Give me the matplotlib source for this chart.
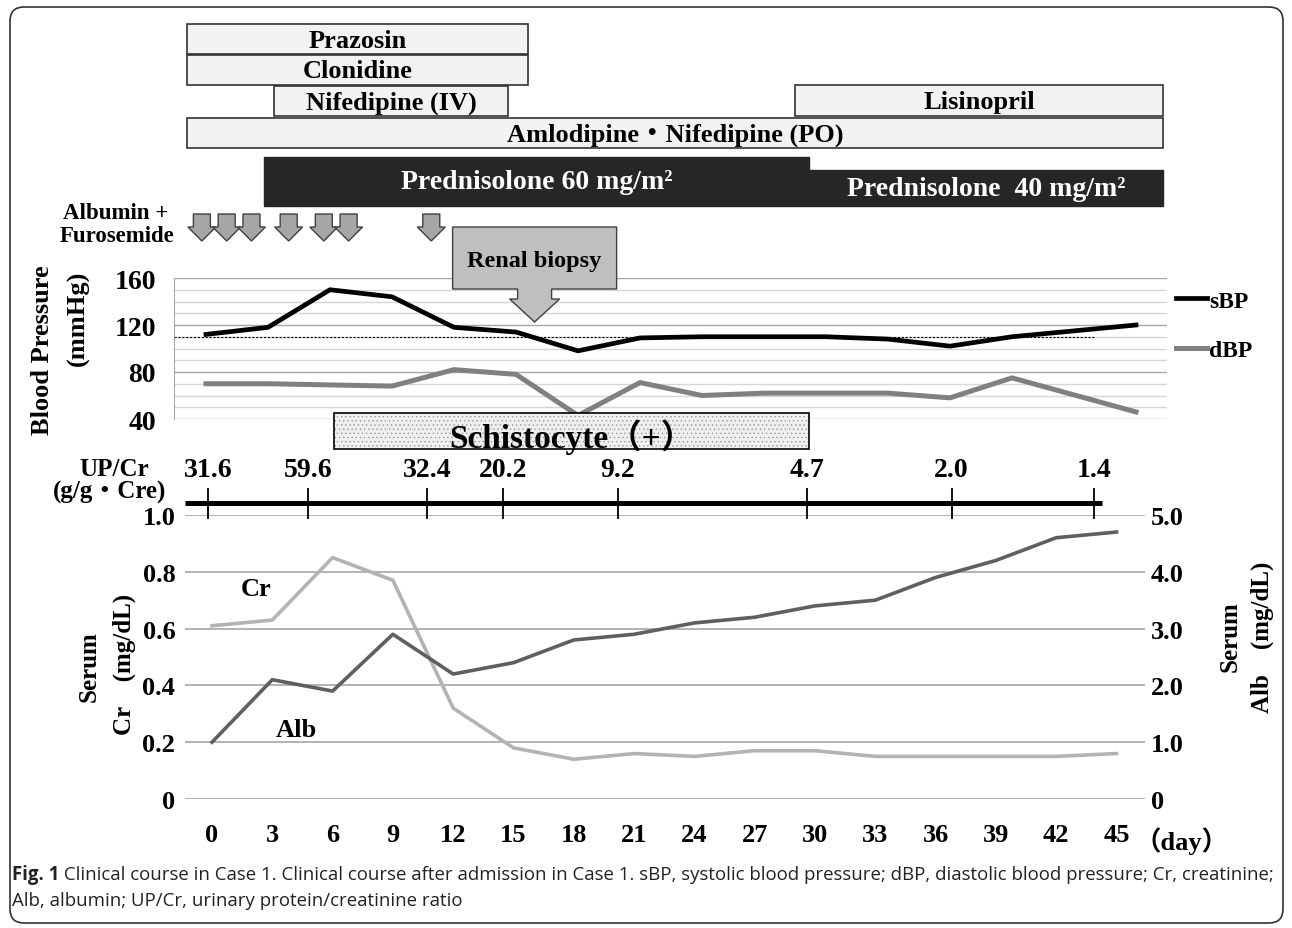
import matplotlib
matplotlib.use("Agg")
import matplotlib.pyplot as plt
from matplotlib import font_manager
from matplotlib.patches import Rectangle, Polygon, FancyBboxPatch

# blood pressure (upper panel)
bp_days = [0, 3, 6, 9, 12, 15, 18, 21, 24, 27, 30, 33, 36, 39, 45]
sbp = [112, 118, 150, 144, 118, 114, 98, 109, 110, 110, 110, 108, 102, 110, 120]
dbp = [70, 70, 69, 68, 82, 78, 43, 71, 60, 62, 62, 62, 58, 75, 46]
bp_ref = 110

# serum values (lower panel)
lab_days = [0, 3, 6, 9, 12, 15, 18, 21, 24, 27, 30, 33, 36, 39, 42, 45]
cr = [0.61, 0.63, 0.85, 0.77, 0.32, 0.18, 0.14, 0.16, 0.15, 0.17, 0.17, 0.15, 0.15, 0.15, 0.15, 0.16]
alb = [1.0, 2.1, 1.9, 2.9, 2.2, 2.4, 2.8, 2.9, 3.1, 3.2, 3.4, 3.5, 3.9, 4.2, 4.6, 4.7]

# urinary protein / creatinine
upcr_days = [-0.2, 4.8, 10.7, 14.5, 20.2, 29.6, 36.8, 43.9]
upcr = ["31.6", "59.6", "32.4", "20.2", "9.2", "4.7", "2.0", "1.4"]

# treatments (days)
drugs = ["Prazosin", "Clonidine", "Nifedipine (IV)", "Lisinopril", "Amlodipine・Nifedipine (PO)"]
drug_start = [-0.9, -0.9, 3.3, 28.5, -0.9]
drug_end = [15.6, 15.6, 14.6, 46.3, 46.3]
steroid = ["Prednisolone 60 mg/m²", "Prednisolone  40 mg/m²"]
steroid_start = [2.8, 29.2]
steroid_end = [29.2, 46.3]
albumin_days = [-0.2, 1.0, 2.2, 4.0, 5.7, 6.9, 10.9]
biopsy_day = 15.9
schisto_start, schisto_end = 6.2, 29.2

W, H = 1292, 929
plt.rcParams["font.family"] = ["Liberation Serif", "Noto Sans CJK JP"]
plt.rcParams["font.weight"] = "bold"
plt.rcParams["hatch.linewidth"] = 0.5
fig = plt.figure(figsize=(W / 100, H / 100), dpi=100)


def box(x0, y0, x1, y1):
    return fig.add_axes([x0 / W, 1 - y1 / H, (x1 - x0) / W, (y1 - y0) / H])


# ---- upper panel: blood pressure ----
day0_top, ppd_top = 206, 20.667
top_xlim = ((174 - day0_top) / ppd_top, (1167 - day0_top) / ppd_top)

ax_bp = box(174, 279, 1167, 420)
ax_bp.set_xlim(top_xlim)
ax_bp.set_ylim(40, 160)
ax_bp.set_yticks(range(40, 161, 40))
ax_bp.set_yticks(range(40, 161, 10), minor=True)
ax_bp.set_xticks([])
ax_bp.grid(which="major", axis="y", color="#a6a6a6", lw=1.0)
ax_bp.grid(which="minor", axis="y", color="#d6d6d6", lw=1.0)
ax_bp.tick_params(which="both", length=0, labelsize=20, pad=13)
for s in ["top", "right", "bottom"]:
    ax_bp.spines[s].set_visible(False)
ax_bp.spines["left"].set_color("#a6a6a6")
ax_bp.hlines(bp_ref, top_xlim[0], (1094 - day0_top) / ppd_top, color="black",
             lw=0.8, linestyles=(0, (2, 1.5)))
l_s, = ax_bp.plot(bp_days, sbp, color="black", lw=3.4)
l_d, = ax_bp.plot(bp_days, dbp, color="#808080", lw=3.6)
ax_bp.legend([l_s, l_d], ["sBP", "dBP"], loc="upper left",
             bbox_to_anchor=(1176 / W, 1 - 291 / H), bbox_transform=fig.transFigure,
             frameon=False, fontsize=17, handlelength=1.3, handletextpad=0.1,
             labelspacing=1.2, borderpad=0, borderaxespad=0)

# ---- timeline (drugs, arrows, biopsy, schistocyte) ----
tl = box(174, 0, 1167, 470)
tl.set_xlim(top_xlim)
tl.set_ylim(470, 0)
tl.axis("off")

drug_rows = [(25, 55), (56, 86), (87, 117), (86, 117), (119, 149)]
for name, s, e, (y0, y1) in zip(drugs, drug_start, drug_end, drug_rows):
    tl.add_patch(Rectangle((s, y0), e - s, y1 - y0, fc="#f2f2f2", ec="#333333", lw=1.2))
    tl.text((s + e) / 2, (y0 + y1) / 2 + 1, name, ha="center", va="center", fontsize=19)

steroid_rows = [(158, 207), (171, 207)]
for name, s, e, (y0, y1) in zip(steroid, steroid_start, steroid_end, steroid_rows):
    tl.add_patch(Rectangle((s, y0), e - s, y1 - y0, fc="#262626", ec="#262626", lw=1))
    tl.text((s + e) / 2, (y0 + y1) / 2, name, ha="center", va="center",
            fontsize=20, color="white")

hs, hh = 8.5 / ppd_top, 14 / ppd_top
for d in albumin_days:
    pts = [(d - hs, 215), (d + hs, 215), (d + hs, 228), (d + hh, 228), (d, 242),
           (d - hh, 228), (d - hs, 228)]
    tl.add_patch(Polygon(pts, closed=True, fc="#a6a6a6", ec="#404040", lw=1))

bw, sw, aw = 82 / ppd_top, 17 / ppd_top, 25 / ppd_top
c = biopsy_day
callout = [(c - bw, 228), (c + bw, 228), (c + bw, 290), (c + sw, 290), (c + sw, 300),
           (c + aw, 300), (c, 323), (c - aw, 300), (c - sw, 300), (c - sw, 290), (c - bw, 290)]
tl.add_patch(Polygon(callout, closed=True, fc="#bfbfbf", ec="#404040", lw=1))
tl.text(c, 261, "Renal biopsy", ha="center", va="center", fontsize=17.5)

tl.add_patch(Rectangle((schisto_start, 414), schisto_end - schisto_start, 36,
                       fc="#efefef", ec="#9a9a9a", lw=0, hatch="...."))
tl.add_patch(Rectangle((schisto_start, 414), schisto_end - schisto_start, 36,
                       fc="none", ec="black", lw=1.2))
tl.text((schisto_start + schisto_end) / 2, 448, "Schistocyte（+）", ha="center",
        va="baseline", fontsize=24)

# ---- lower panel: serum Cr / Alb ----
day0_bot, ppd_bot = 212, 20.1
ax_lab = box(185, 516, 1145, 800)
ax_lab.set_xlim((185 - day0_bot) / ppd_bot, (1145 - day0_bot) / ppd_bot)
ax_lab.set_ylim(0, 1.0)
ax_lab.set_yticks([0, 0.2, 0.4, 0.6, 0.8, 1.0])
ax_lab.set_yticklabels(["0", "0.2", "0.4", "0.6", "0.8", "1.0"])
ax_lab.set_xticks(lab_days)
ax_lab.set_xticklabels([str(d) for d in lab_days])
ax_lab.grid(axis="y", color="#a6a6a6", lw=1.2)
ax_lab.tick_params(length=0, labelsize=19)
ax_lab.tick_params(axis="y", pad=7)
ax_lab.tick_params(axis="x", pad=17)
ax_alb = ax_lab.twinx()
ax_alb.set_ylim(0, 5)
ax_alb.set_yticks([0, 1, 2, 3, 4, 5])
ax_alb.set_yticklabels(["0", "1.0", "2.0", "3.0", "4.0", "5.0"])
ax_alb.tick_params(length=0, labelsize=19, pad=4)
for a in (ax_lab, ax_alb):
    for s in a.spines.values():
        s.set_visible(False)
ax_lab.plot(lab_days, cr, color="#b3b3b3", lw=2.6)
ax_alb.plot(lab_days, alb, color="#5f5f5f", lw=2.6)
ax_lab.text(2.2, 0.74, "Cr", ha="center", va="center", fontsize=19)
ax_lab.text(4.2, 0.245, "Alb", ha="center", va="center", fontsize=19)

# UP/Cr scale line
ax_lab.plot([ax_lab.get_xlim()[0], upcr_days[-1] + 0.4], [1.042, 1.042], color="black",
            lw=3.6, clip_on=False, solid_capstyle="butt")
ax_lab.vlines(upcr_days, 0.986, 1.095, color="black", lw=1.3, clip_on=False)
for d, v in zip(upcr_days, upcr):
    ax_lab.text(d, 1.16, v, ha="center", va="center", fontsize=20, clip_on=False)

# ---- overlay: labels, frame, caption ----
ov = fig.add_axes([0, 0, 1, 1])
ov.set_xlim(0, W)
ov.set_ylim(H, 0)
ov.axis("off")

ov.add_patch(FancyBboxPatch((10, 8), 1273, 916, boxstyle="round,pad=0,rounding_size=14",
                            fc="none", ec="#333333", lw=1.2))
ov.text(116, 213, "Albumin +", ha="center", va="center", fontsize=16.5)
ov.text(117, 236, "Furosemide", ha="center", va="center", fontsize=16.5)
ov.text(43, 350, "Blood Pressure", rotation=90, ha="center", va="center", fontsize=19)
ov.text(78, 318, "(mmHg)", rotation=90, ha="center", va="center", fontsize=19)
ov.text(114, 470, "UP/Cr", ha="center", va="center", fontsize=18)
ov.text(110, 492, "(g/g・Cre)", ha="center", va="center", fontsize=18)
ov.text(89, 667, "Serum", rotation=90, ha="center", va="center", fontsize=18)
ov.text(124, 664, "Cr    (mg/dL)", rotation=90, ha="center", va="center", fontsize=18)
ov.text(1230, 637, "Serum", rotation=90, ha="center", va="center", fontsize=18)
ov.text(1262, 637, "Alb    (mg/dL)", rotation=90, ha="center", va="center", fontsize=18)
ov.text(1134, 841, "（day）", ha="left", va="center", fontsize=19)

names = {f.name for f in font_manager.fontManager.ttflist}
cap_font = "Liberation Sans Narrow" if "Liberation Sans Narrow" in names else "Open Sans"
fs = 14
t1 = ov.text(12, 875, "Fig. 1", fontfamily=cap_font, fontweight="bold", fontsize=fs,
             va="center", color="#222222")
t2 = ov.annotate(" Clinical course in Case 1. Clinical course after admission in Case 1. "
                 "sBP, systolic blood pressure; dBP, diastolic blood pressure; Cr, creatinine;",
                 xy=(1, 0.5), xycoords=t1, va="center", fontfamily=cap_font,
                 fontweight="normal", fontsize=fs, color="#222222")
t3 = ov.text(12, 901, "Alb, albumin; UP/Cr, urinary protein/creatinine ratio",
             fontfamily=cap_font, fontweight="normal", fontsize=fs, va="center",
             color="#222222")
fig.canvas.draw()
right = t2.get_window_extent().x1
fs_fit = fs * (1280 - 12) / (right - 12)
for t in (t1, t2, t3):
    t.set_fontsize(fs_fit)

fig.savefig("out.png", dpi=100)
